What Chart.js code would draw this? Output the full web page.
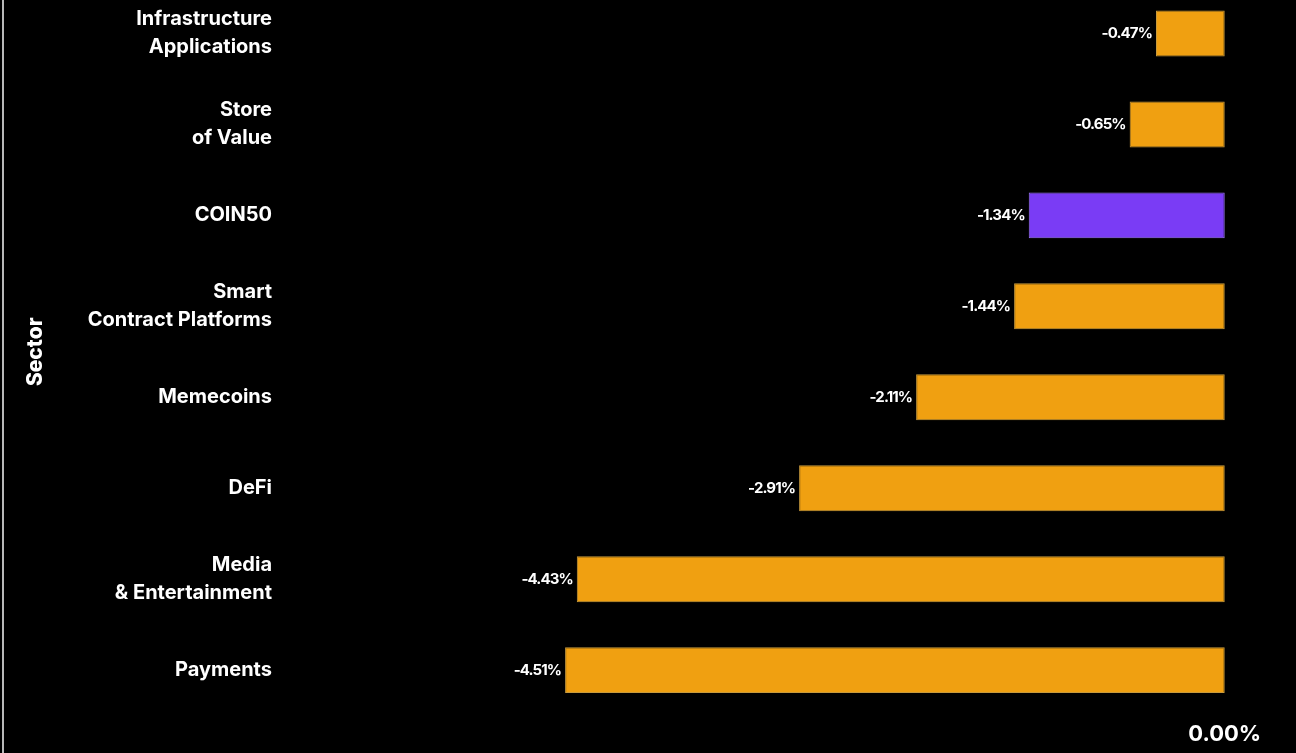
<!DOCTYPE html>
<html>
<head>
<meta charset="utf-8">
<script src="https://cdn.jsdelivr.net/npm/chart.js@4.4.1/dist/chart.umd.min.js"></script>
<style>
  html, body { margin: 0; padding: 0; background: #000; width: 1296px; height: 753px; overflow: hidden; position: relative; }
  #wrap { position: absolute; left: 0; top: -39px; width: 1296px; height: 801px; }
  #edge { position: absolute; left: 2px; top: 0; width: 2px; height: 753px; background: #b8b8b8; z-index: 2; }
</style>
</head>
<body>
<div id="edge"></div>
<div id="wrap"><canvas id="c" width="1296" height="801"></canvas></div>
<script>
const categories = [
  ["Infrastructure", "Applications"],
  ["Store", "of Value"],
  ["COIN50"],
  ["Smart", "Contract Platforms"],
  ["Memecoins"],
  ["DeFi"],
  ["Media", "& Entertainment"],
  ["Payments"]
];
const values = [-0.47, -0.65, -1.34, -1.44, -2.11, -2.91, -4.43, -4.51];
const highlight = "COIN50";
const tickValues = [0];

const ORANGE = "#F0A011";
const PURPLE = "#7A3CF5";
const colors = categories.map(c => c.join(" ") === highlight ? PURPLE : ORANGE);
const borders = categories.map(c => c.join(" ") === highlight ? "#9a78f0" : "#c99a3c");

const valueLabels = {
  id: "valueLabels",
  afterDatasetsDraw(chart) {
    const ctx = chart.ctx;
    const meta = chart.getDatasetMeta(0);
    ctx.save();
    ctx.font = "700 15px Inter";
    ctx.fillStyle = "#ffffff";
    ctx.textAlign = "right";
    ctx.textBaseline = "middle";
    try { ctx.letterSpacing = "-0.9px"; } catch (e) {}
    meta.data.forEach((bar, i) => {
      const v = values[i];
      const left = Math.min(bar.x, bar.base);
      ctx.fillText(v.toFixed(2) + "%", left - 4, bar.y);
    });
    ctx.restore();
  }
};

new Chart(document.getElementById("c"), {
  type: "bar",
  data: {
    labels: categories,
    datasets: [{
      data: values,
      backgroundColor: colors,
      borderColor: borders,
      borderWidth: 1,
      borderSkipped: false,
      categoryPercentage: 1.0,
      barPercentage: 0.505
    }]
  },
  options: {
    indexAxis: "y",
    responsive: false,
    animation: false,
    devicePixelRatio: 1,
    layout: { padding: { top: 0, bottom: 8, left: 0, right: 4 } },
    plugins: { legend: { display: false }, tooltip: { enabled: false } },
    scales: {
      x: {
        min: -6.425,
        max: 0.46,
        grid: { display: false, drawTicks: false },
        border: { display: false },
        afterBuildTicks(scale) { scale.ticks = tickValues.map(v => ({ value: v })); },
        ticks: {
          color: "#ffffff",
          padding: 6,
          font: { family: "Inter", size: 22, weight: "700", lineHeight: 1.2 },
          callback: v => Number(v).toFixed(2) + "%"
        }
      },
      y: {
        grid: { display: false, drawTicks: false },
        border: { display: false },
        afterFit(scale) { scale.width = 285; },
        title: {
          display: true,
          text: "Sector",
          color: "#ffffff",
          font: { family: "Inter", size: 21, weight: "800", lineHeight: 1.2 },
          padding: { top: 23, bottom: 0 }
        },
        ticks: {
          color: "#ffffff",
          padding: 13,
          font: { family: "Inter", size: 20, weight: "700", lineHeight: 1.4 }
        }
      }
    }
  },
  plugins: [valueLabels]
});
</script>
</body>
</html>
